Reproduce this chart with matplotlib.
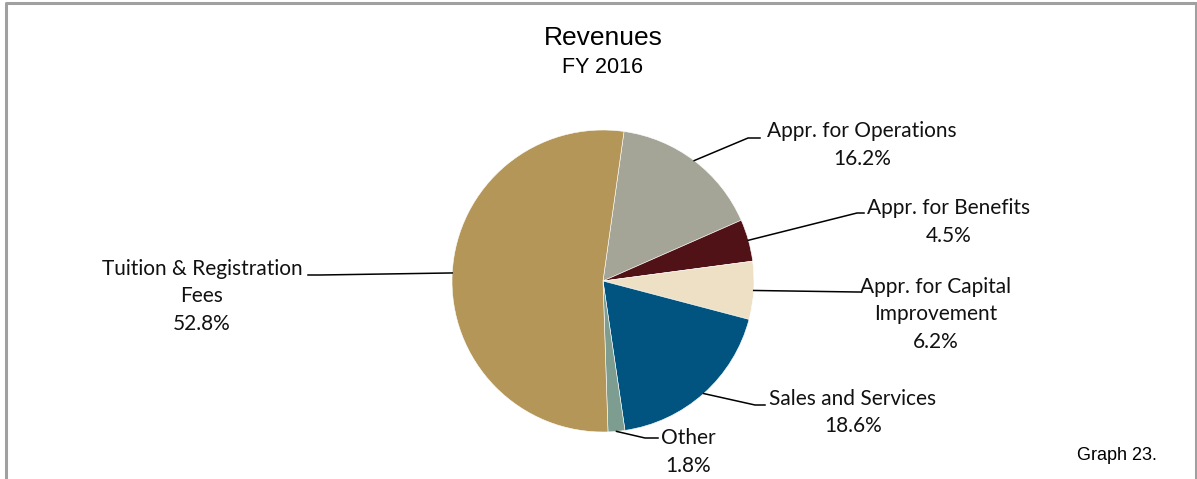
import numpy as np
from matplotlib import pyplot as plt

# data
categories = ['Appr. for Operations', 'Appr. for Benefits',
              'Appr. for Capital\nImprovement', 'Sales and Services',
              'Other', 'Tuition & Registration\nFees']
shares = [16.2, 4.5, 6.2, 18.6, 1.8, 52.8]
colors = ['#A5A597', '#511217', '#EEE0C5', '#00547F', '#7D9D91', '#B39658']

W, H = 1197, 479
fig = plt.figure(figsize=(W / 100, H / 100), dpi=100)
ax = fig.add_axes([0, 0, 1, 1])

# chart frame (top, left, right)
ax.plot([5.5, 5.5, 1195.5, 1195.5], [0, H - 3, H - 3, 0], color='#A0A0A0', lw=2.2)

cx, cy, r = 603, H - 281, 151
wedges, _ = ax.pie(shares, colors=colors, startangle=82, counterclock=False,
                   center=(cx, cy), radius=r, frame=True,
                   wedgeprops=dict(edgecolor='white', linewidth=0.4))
ax.set_xlim(0, W)
ax.set_ylim(0, H)
ax.set_aspect('equal')
ax.axis('off')

ax.text(cx, H - 38, 'Revenues', ha='center', va='center', fontsize=19,
        family='Liberation Sans')
ax.text(cx, H - 67, 'FY 2016', ha='center', va='center', fontsize=15.5,
        family='Liberation Sans')
ax.text(1117, H - 455, 'Graph 23.', ha='center', va='center', fontsize=13,
        family='Liberation Sans')

# label layout: elbow point, line end, text centre (pixels from top-left)
layout = [
    ((748, 138), (760, 138), (862, 131)),
    ((857, 213), (864, 213), (949, 208)),
    ((857, 292), (860, 292), (936, 287)),
    ((755, 405), (765, 405), (853, 399)),
    ((645, 438), (658, 438), (688, 438)),
    ((320, 275), (308, 275), (202, 269)),
]
lfont = dict(family='Lato', fontsize=15, color='#111111')
for w, name, val, (elbow, end, txt) in zip(wedges, categories, shares, layout):
    th = np.deg2rad((w.theta1 + w.theta2) / 2)
    px, py = cx + r * np.cos(th), cy + r * np.sin(th)
    ax.plot([px, elbow[0], end[0]], [py, H - elbow[1], H - end[1]],
            color='black', lw=1.1)
    lines = f'{name}\n{val:.1f}%'.split('\n')
    for i, line in enumerate(lines):
        ax.text(txt[0], H - txt[1] - 27.5 * i, line, ha='center', va='center',
                **lfont)

fig.savefig('out.png', dpi=100)
